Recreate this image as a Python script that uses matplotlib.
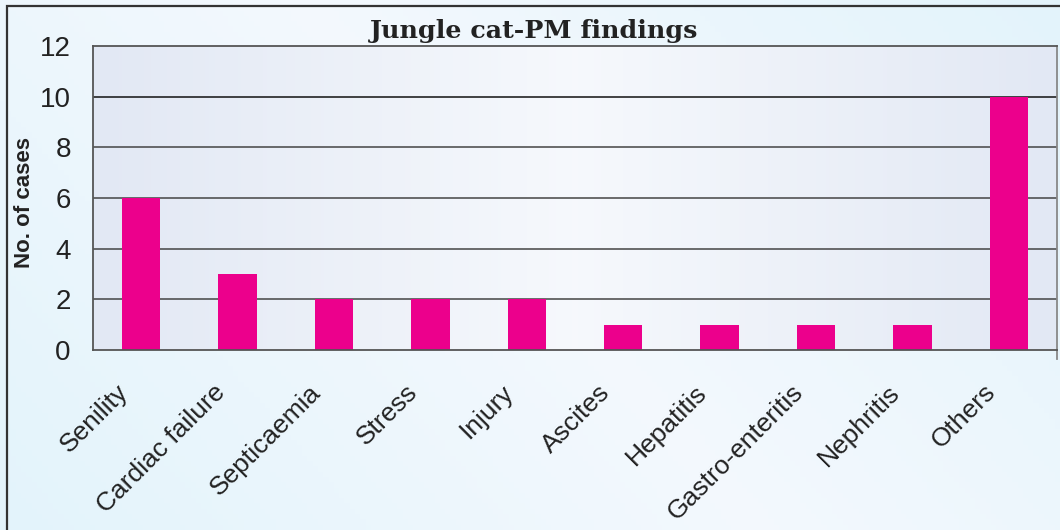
import numpy as np
import matplotlib
matplotlib.use("Agg")
import matplotlib.pyplot as plt
from matplotlib.patches import Rectangle
from matplotlib.lines import Line2D
from matplotlib.transforms import ScaledTranslation, blended_transform_factory

categories = ["Senility", "Cardiac failure", "Septicaemia", "Stress", "Injury",
              "Ascites", "Hepatitis", "Gastro-enteritis", "Nephritis", "Others"]
cases = [6, 3, 2, 2, 2, 1, 1, 1, 1, 10]
y_ticks = [0, 2, 4, 6, 8, 10, 12]
title = "Jungle cat-PM findings"
ylabel = "No. of cases"

W, H = 1060, 530
fig = plt.figure(figsize=(W / 100, H / 100), dpi=100)

# figure background gradient
bg = fig.add_axes([0, 0, 1, 1], zorder=-10)
xx, yy = np.meshgrid(np.linspace(0, 1, 200), np.linspace(0, 1, 100))
t = np.clip(1 - np.abs((xx * 0.7 + (1 - yy) * 0.3) - 0.5) * 2, 0, 1)
c0 = np.array([0.89, 0.955, 0.985])
c1 = np.array([0.955, 0.975, 0.995])
img = c0[None, None, :] * (1 - t[..., None]) + c1[None, None, :] * t[..., None]
bg.imshow(img, extent=[0, 1, 0, 1], aspect="auto", origin="upper")
bg.set_axis_off()

# border
fig.add_artist(Rectangle((6.5 / W, -0.02), 1.2, (H - 5.5) / H + 0.02,
                         transform=fig.transFigure, fill=False,
                         edgecolor="#333333", lw=1.6))

left, right, top, bottom = 93, 1057, 46, 350
ax = fig.add_axes([left / W, (H - bottom) / H, (right - left) / W, (bottom - top) / H])
ax.set_facecolor("none")

n = len(categories)
x = np.arange(n)
ax.set_xlim(-0.5, n - 0.5)
ax.set_ylim(0, 12)

# plot area gradient
xg = np.linspace(0, 1, 300)
tg = np.clip(1 - np.abs(xg - 0.5) * 2, 0, 1)[None, :].repeat(2, axis=0)
p0 = np.array([0.886, 0.91, 0.957])
p1 = np.array([0.965, 0.975, 0.99])
pimg = p0[None, None, :] * (1 - tg[..., None]) + p1[None, None, :] * tg[..., None]
ax.imshow(pimg, extent=[-0.5, n - 0.5, 0, 12], aspect="auto", zorder=0)

for yv in y_ticks[1:-1]:
    ax.axhline(yv, color="#111111" if yv == 10 else "#444444", lw=1.1, zorder=1)

ax.bar(x, cases, width=0.4, color="#ec008c", zorder=2)

ax.set_xticks(x)
ax.set_xticklabels([])
tr = blended_transform_factory(ax.transData, ax.transAxes) + \
    ScaledTranslation(-25 / 100, -30 / 100, fig.dpi_scale_trans)
for xi, lab in zip(x, categories):
    ax.text(xi, 0, lab, transform=tr, rotation=45, ha="right", va="top",
            rotation_mode="anchor", fontsize=19, fontfamily="Liberation Sans",
            color="#222222", clip_on=False)

ax.set_yticks(y_ticks)
ax.set_yticklabels([str(v) for v in y_ticks], fontsize=20,
                   fontfamily="Liberation Sans", color="#222222")
ax.tick_params(axis="both", length=0)
ax.tick_params(axis="y", pad=16)

for s in ["left", "top", "bottom", "right"]:
    ax.spines[s].set_color("#555555")
    ax.spines[s].set_linewidth(1.3)
ax.spines["right"].set_color("#888888")
ax.add_line(Line2D([1, 1], [0, -0.03], transform=ax.transAxes, color="#888888",
                   lw=1.3, clip_on=False))

fig.text(25 / W, (H - 202) / H, ylabel, rotation=90, ha="center", va="center",
         fontsize=16, fontweight="bold", fontfamily="Liberation Sans", color="#222222")
fig.text(534 / W, (H - 38) / H, title, ha="center", va="baseline",
         fontsize=18.3, fontweight="bold", fontfamily="DejaVu Serif", color="#222222")

fig.savefig("out.png", dpi=100)
